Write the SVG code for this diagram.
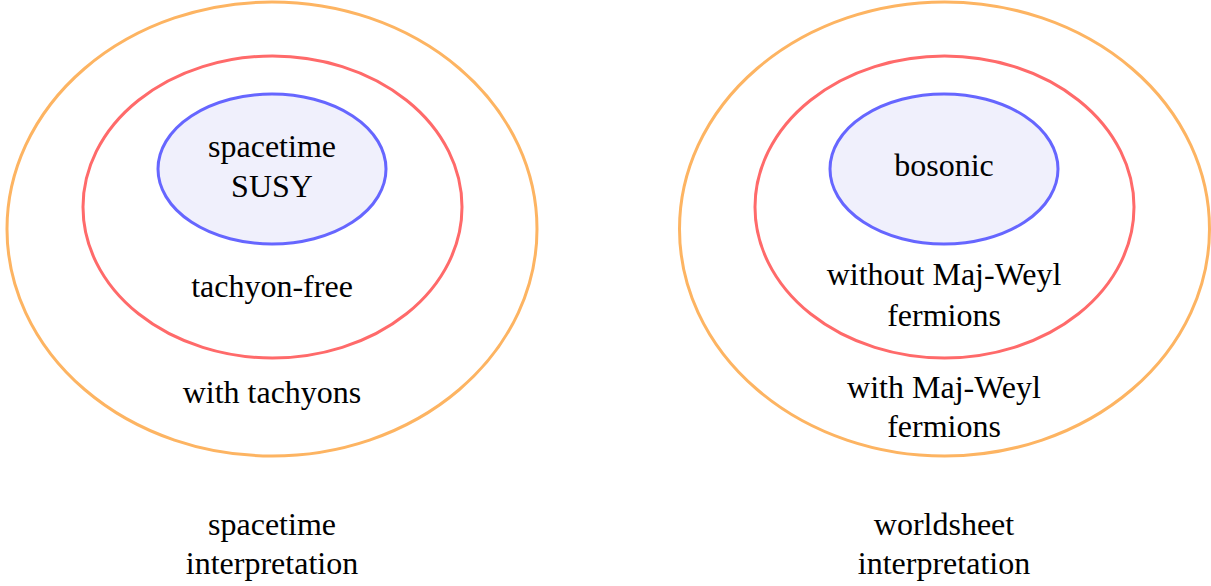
<svg xmlns="http://www.w3.org/2000/svg" width="1211" height="586" viewBox="0 0 1211 586">
<style>
.o{fill:none;stroke:#FDB462;stroke-width:3}
.r{fill:none;stroke:#FF6A6A;stroke-width:3}
.b{fill:#F0F0FC;stroke:#6666FF;stroke-width:3}
text{font-family:"Liberation Serif","Times New Roman",serif;font-size:32px;fill:#000;text-anchor:middle}
</style>
<rect width="1211" height="586" fill="#fff"/>
<g id="left">
<g id="left-outer"><ellipse class="o" cx="272" cy="229" rx="265" ry="227"/><text x="272" y="403">with tachyons</text></g>
<g id="left-middle"><ellipse class="r" cx="272.5" cy="207" rx="189.5" ry="151"/><text x="272" y="297">tachyon-free</text></g>
<g id="left-inner"><ellipse class="b" cx="272" cy="169" rx="114" ry="75"/><text x="272" y="157">spacetime</text><text x="272" y="197">SUSY</text></g>
<g id="left-caption"><text x="272" y="535">spacetime</text><text x="272" y="574">interpretation</text></g>
</g>
<g id="right">
<g id="right-outer"><ellipse class="o" cx="944.5" cy="229" rx="265" ry="227"/><text x="944" y="398">with Maj-Weyl</text><text x="944" y="437">fermions</text></g>
<g id="right-middle"><ellipse class="r" cx="944.5" cy="207" rx="189.5" ry="151"/><text x="944" y="285">without Maj-Weyl</text><text x="944" y="326">fermions</text></g>
<g id="right-inner"><ellipse class="b" cx="944" cy="169" rx="114" ry="75"/><text x="944" y="176">bosonic</text></g>
<g id="right-caption"><text x="944" y="535">worldsheet</text><text x="944" y="574">interpretation</text></g>
</g>
<g id="connectors"/>
</svg>
